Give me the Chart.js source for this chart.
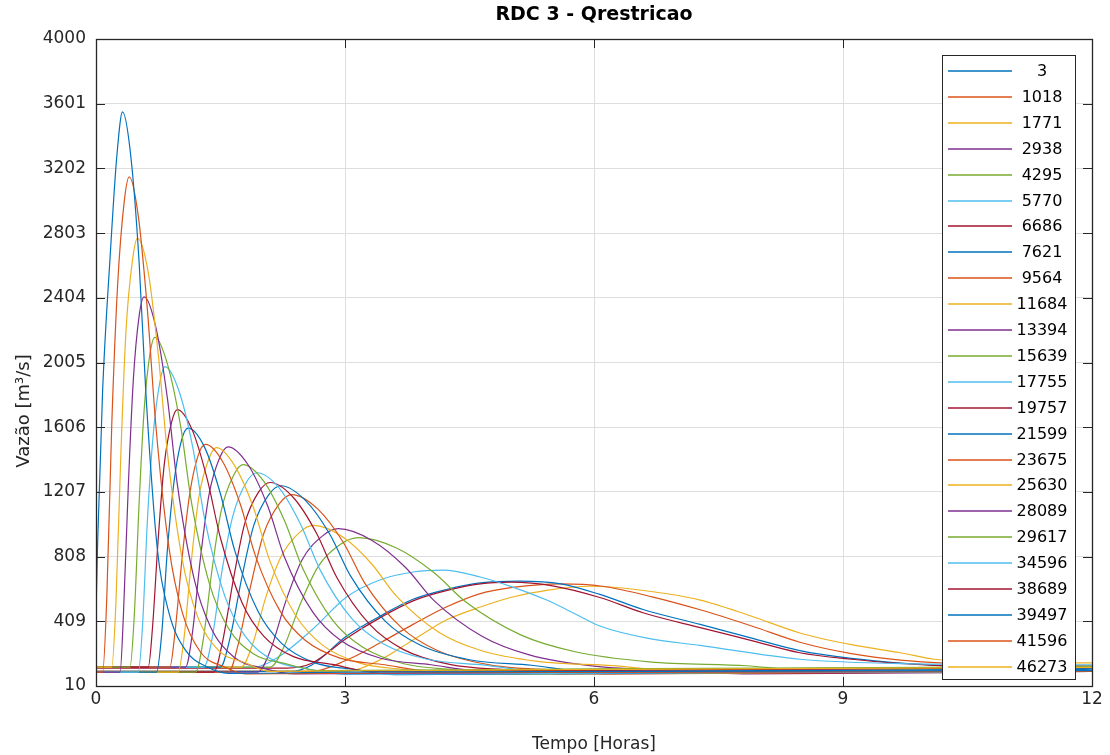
<!DOCTYPE html>
<html>
<head>
<meta charset="utf-8">
<title>RDC 3 - Qrestricao</title>
<script src="https://cdn.jsdelivr.net/npm/chart.js@4.4.1/dist/chart.umd.min.js"></script>
<style>
    html, body { margin: 0; padding: 0; background: #ffffff; }
    #wrap { width: 1110px; height: 755px; }
</style>
</head>
<body>
<div id="wrap"><canvas id="chart" width="1110" height="755"></canvas></div>
<script>
// hydrographs, [tempo (h), vazao (m3/s)] for each section
let q3 = [[0,450],[0.02,900],[0.08,1835],[0.17,2656],[0.25,3272],[0.32,3550],[0.42,3274],[0.52,2619],[0.6,1825],[0.74,850],[0.88,460],[1.08,230],[1.33,130],[1.6,88],[3,95],[12,105]]
let q1018 = [[0,96],[0.08,96],[0.13,554],[0.19,1623],[0.26,2478],[0.34,2997],[0.4,3150],[0.51,2906],[0.62,2325],[0.72,1623],[0.88,860],[1.04,462],[1.26,218],[1.55,127],[1.8,85],[4,92],[12,100]]
let q1771 = [[0,127],[0.19,127],[0.24,523],[0.3,1449],[0.36,2189],[0.44,2638],[0.5,2770],[0.63,2559],[0.75,2056],[0.86,1449],[1.04,788],[1.22,444],[1.47,233],[1.8,153],[2.1,100],[5,110],[12,125]]
let q2938 = [[0,96],[0.29,96],[0.33,443],[0.39,1253],[0.45,1901],[0.52,2294],[0.58,2410],[0.72,2225],[0.86,1785],[0.98,1253],[1.18,675],[1.38,374],[1.66,189],[2.02,119],[2.4,85],[6,95],[12,100]]
let q4295 = [[0,127],[0.41,127],[0.46,432],[0.52,1144],[0.58,1713],[0.65,2058],[0.71,2160],[0.86,1997],[1.02,1611],[1.15,1144],[1.37,635],[1.59,371],[1.9,208],[2.29,147],[2.7,105],[6,115],[12,130]]
let q5770 = [[0,96],[0.51,96],[0.56,379],[0.62,1038],[0.69,1566],[0.77,1886],[0.83,1980],[1,1829],[1.17,1471],[1.31,1038],[1.55,567],[1.79,322],[2.13,171],[2.56,115],[3,82],[7,92],[12,100]]
let q6686 = [[0,127],[0.63,127],[0.68,365],[0.75,921],[0.82,1366],[0.91,1636],[0.98,1715],[1.16,1588],[1.34,1286],[1.5,921],[1.76,524],[2.02,318],[2.38,191],[2.85,143],[3.3,100],[7,110],[12,125]]
let q7621 = [[0,96],[0.73,96],[0.79,322],[0.86,848],[0.94,1269],[1.03,1525],[1.11,1600],[1.31,1480],[1.5,1194],[1.67,848],[1.95,472],[2.23,276],[2.62,156],[3.13,111],[3.6,80],[8,95],[12,105]]
let q9564 = [[0,127],[0.89,127],[0.95,333],[1.04,814],[1.13,1198],[1.23,1431],[1.32,1500],[1.53,1390],[1.74,1129],[1.92,814],[2.22,470],[2.52,292],[2.94,182],[3.48,141],[4,105],[8,115],[12,130]]
let q11684 = [[0,96],[0.99,96],[1.06,304],[1.15,788],[1.24,1176],[1.36,1411],[1.45,1480],[1.67,1369],[1.9,1106],[2.09,788],[2.41,442],[2.73,262],[3.18,151],[3.75,110],[4.3,82],[8,92],[12,100]]
let q13394 = [[0,127],[1.08,127],[1.16,331],[1.26,806],[1.36,1186],[1.49,1417],[1.59,1485],[1.83,1376],[2.07,1118],[2.27,806],[2.61,467],[2.95,290],[3.43,181],[4.04,141],[4.6,105],[9,115],[12,125]]
let q15639 = [[0,96],[1.2,96],[1.29,288],[1.4,736],[1.51,1094],[1.66,1311],[1.77,1375],[2.02,1273],[2.27,1030],[2.49,736],[2.85,416],[3.21,250],[3.71,147],[4.36,109],[5,85],[9,95],[12,105]]
let q17755 = [[0,127],[1.3,127],[1.4,307],[1.52,726],[1.65,1061],[1.81,1265],[1.94,1325],[2.21,1229],[2.47,1002],[2.7,726],[3.08,427],[3.46,271],[3.99,175],[4.68,139],[5.3,105],[9,115],[12,130]]
let q19757 = [[0,96],[1.42,96],[1.52,271],[1.66,681],[1.79,1008],[1.96,1207],[2.1,1265],[2.38,1171],[2.66,949],[2.9,681],[3.3,388],[3.7,236],[4.26,143],[4.98,108],[5.6,85],[10,95],[12,100]]
let q21599 = [[0,127],[1.5,127],[1.61,295],[1.76,686],[1.9,999],[2.08,1189],[2.23,1245],[2.52,1156],[2.82,943],[3.07,686],[3.49,407],[3.91,261],[4.5,172],[5.25,138],[5.9,100],[10,110],[12,120]]
let q23675 = [[0,96],[1.6,96],[1.71,260],[1.87,643],[2.02,949],[2.21,1135],[2.36,1190],[2.67,1102],[2.98,895],[3.24,643],[3.68,370],[4.12,227],[4.74,140],[5.53,107],[6.2,85],[10,95],[12,105]]
let q25630 = [[0,127],[1.75,127],[1.88,258],[2.05,564],[2.23,808],[2.45,956],[2.62,1000],[2.97,930],[3.32,764],[3.62,564],[4.12,345],[4.62,232],[5.32,162],[6.22,136],[7,105],[11,118],[12,125]]
let q28089 = [[0,96],[1.95,96],[2.1,229],[2.29,538],[2.48,786],[2.73,936],[2.92,980],[3.32,909],[3.73,741],[4.07,538],[4.65,317],[5.22,202],[6.03,131],[7.06,105],[7.8,85],[11,95],[12,100]]
let q29617 = [[0,127],[2.1,127],[2.26,247],[2.47,526],[2.68,749],[2.95,885],[3.16,925],[3.62,861],[4.07,710],[4.46,526],[5.11,327],[5.76,223],[6.67,159],[7.84,135],[8.5,110],[12,125]]
let q34596 = [[0,127],[1.9,127],[2.2,190],[2.6,355],[3.02,559],[3.42,664],[3.82,713],[4.18,725],[4.63,682],[5.02,620],[5.43,540],[5.83,440],[6.07,380],[6.64,305],[7.28,260],[8.48,175],[9.7,148],[12,140]]
let q38689 = [[0,120],[2.3,120],[2.6,150],[3.02,305],[3.42,430],[3.82,535],[4.22,598],[4.63,640],[5,650],[5.5,628],[6.07,556],[6.6,460],[7.28,370],[7.9,290],[8.48,215],[9.1,175],[9.69,150],[10.5,130],[12,120]]
let q39497 = [[0,100],[2.35,100],[2.6,140],[3.02,318],[3.42,440],[3.82,545],[4.22,605],[4.63,646],[5.1,657],[5.6,640],[6.07,575],[6.6,480],[7.28,390],[7.9,305],[8.48,228],[9.1,180],[9.69,152],[10.5,128],[12,110]]
let q41596 = [[0,100],[2.6,100],[3.02,170],[3.42,275],[3.82,390],[4.22,497],[4.63,580],[5.02,618],[5.6,640],[6.1,625],[6.7,560],[7.28,480],[7.9,380],[8.48,280],[9.1,210],[9.69,170],[10.3,150],[11,140],[12,135]]
let q46273 = [[0,100],[3,100],[3.42,170],[3.82,294],[4.22,417],[4.63,497],[5.02,559],[5.43,600],[5.95,625],[6.5,605],[7.28,540],[7.9,440],[8.48,337],[9.1,265],[9.69,215],[10.1,175],[10.5,162],[11,155],[12,152]]

let sections = ["3", "1018", "1771", "2938", "4295", "5770", "6686", "7621", "9564", "11684", "13394", "15639",
    "17755", "19757", "21599", "23675", "25630", "28089", "29617", "34596", "38689", "39497", "41596", "46273"]
let hydrographs = [q3, q1018, q1771, q2938, q4295, q5770, q6686, q7621, q9564, q11684, q13394, q15639,
    q17755, q19757, q21599, q23675, q25630, q28089, q29617, q34596, q38689, q39497, q41596, q46273]

let xTicks = [0, 3, 6, 9, 12]
let yTicks = [10, 409, 808, 1207, 1606, 2005, 2404, 2803, 3202, 3601, 4000]

// default matlab line order
let colors = ["#0072BD", "#D95319", "#EDB120", "#7E2F8E", "#77AC30", "#4DBEEE", "#A2142F"]

let axisColor = "#262626"
let fontFamily = "'DejaVu Sans', sans-serif"

// box, inward ticks, title, labels and legend
let frame = {
    id: 'frame',
    afterDraw(chart) {
        let ctx = chart.ctx
        let area = chart.chartArea
        let xs = chart.scales.x
        let ys = chart.scales.y

        ctx.save()
        ctx.strokeStyle = axisColor
        ctx.lineWidth = 1

        ctx.beginPath()
        for(let t of xTicks) {
            let px = Math.round(xs.getPixelForValue(t)) + 0.5
            ctx.moveTo(px, area.bottom); ctx.lineTo(px, area.bottom - 9)
            ctx.moveTo(px, area.top); ctx.lineTo(px, area.top + 9)
        }
        for(let t of yTicks) {
            let py = Math.round(ys.getPixelForValue(t)) + 0.5
            ctx.moveTo(area.left, py); ctx.lineTo(area.left + 9, py)
            ctx.moveTo(area.right, py); ctx.lineTo(area.right - 9, py)
        }
        ctx.stroke()

        // legend box
        let lx = 942, ly = 55, lw = 133, lh = 624
        ctx.fillStyle = "#ffffff"
        ctx.fillRect(lx, ly, lw, lh)
        ctx.lineWidth = 1
        ctx.strokeStyle = axisColor
        ctx.strokeRect(lx + 0.5, ly + 0.5, lw, lh)

        ctx.font = "16px " + fontFamily
        ctx.textAlign = "center"
        ctx.textBaseline = "middle"
        chart.data.datasets.forEach((ds, i) => {
            let y = Math.round(71 + i * 25.9)
            ctx.strokeStyle = ds.borderColor
            ctx.lineWidth = 1.5
            ctx.beginPath()
            ctx.moveTo(948, y)
            ctx.lineTo(1012, y)
            ctx.stroke()
            ctx.fillStyle = "#000000"
            ctx.fillText(ds.label, 1042, y + 1)
        })

        // axes box
        ctx.strokeStyle = axisColor
        ctx.lineWidth = 1.3
        ctx.strokeRect(area.left + 0.5, area.top + 0.5, area.right - area.left, area.bottom - area.top)

        // title and axis labels
        ctx.fillStyle = "#000000"
        ctx.font = "bold 19px " + fontFamily
        ctx.textAlign = "center"
        ctx.textBaseline = "middle"
        ctx.fillText("RDC 3 - Qrestricao", (area.left + area.right) / 2, 15)

        ctx.fillStyle = axisColor
        ctx.font = "17px " + fontFamily
        ctx.fillText("Tempo [Horas]", (area.left + area.right) / 2, 745)

        ctx.translate(24, 411)
        ctx.rotate(-Math.PI / 2)
        ctx.font = "18px " + fontFamily
        ctx.fillText("Vazão [m³/s]", 0, 0)
        ctx.restore()
    }
}

window.onload = () => {
    let ctx = document.querySelector("#chart").getContext("2d")

    let datasets = hydrographs.map((points, i) => ({
        label: sections[i],
        data: points.map(([t, q]) => ({ x: t, y: q })),
        borderColor: colors[i % colors.length],
        backgroundColor: colors[i % colors.length],
        borderWidth: 1.2,
        pointRadius: 0,
        fill: false,
        cubicInterpolationMode: 'monotone'
    }))

    let tickFont = { family: fontFamily, size: 17 }

    new Chart(ctx, {
        type: "line",
        data: { datasets },
        plugins: [frame],
        options: {
            responsive: false,
            maintainAspectRatio: false,
            animation: false,
            layout: { padding: { top: 39, right: 18, bottom: 0, left: 0 } },
            plugins: {
                legend: { display: false },
                title: { display: false },
                tooltip: { enabled: false }
            },
            scales: {
                x: {
                    type: "linear",
                    min: 0,
                    max: 12,
                    afterFit: s => { s.height = 69 },
                    afterBuildTicks: s => { s.ticks = xTicks.map(v => ({ value: v })) },
                    ticks: { color: axisColor, font: tickFont, padding: 3, maxRotation: 0, callback: v => String(v) },
                    grid: { color: "#dedede", drawTicks: false, lineWidth: 1 },
                    border: { display: false }
                },
                y: {
                    type: "linear",
                    min: 10,
                    max: 4000,
                    afterFit: s => { s.width = 96 },
                    afterBuildTicks: s => { s.ticks = yTicks.map(v => ({ value: v })) },
                    ticks: { color: axisColor, font: tickFont, padding: 10, callback: v => String(v) },
                    grid: { color: "#dedede", drawTicks: false, lineWidth: 1 },
                    border: { display: false }
                }
            }
        }
    })
}
</script>
</body>
</html>
